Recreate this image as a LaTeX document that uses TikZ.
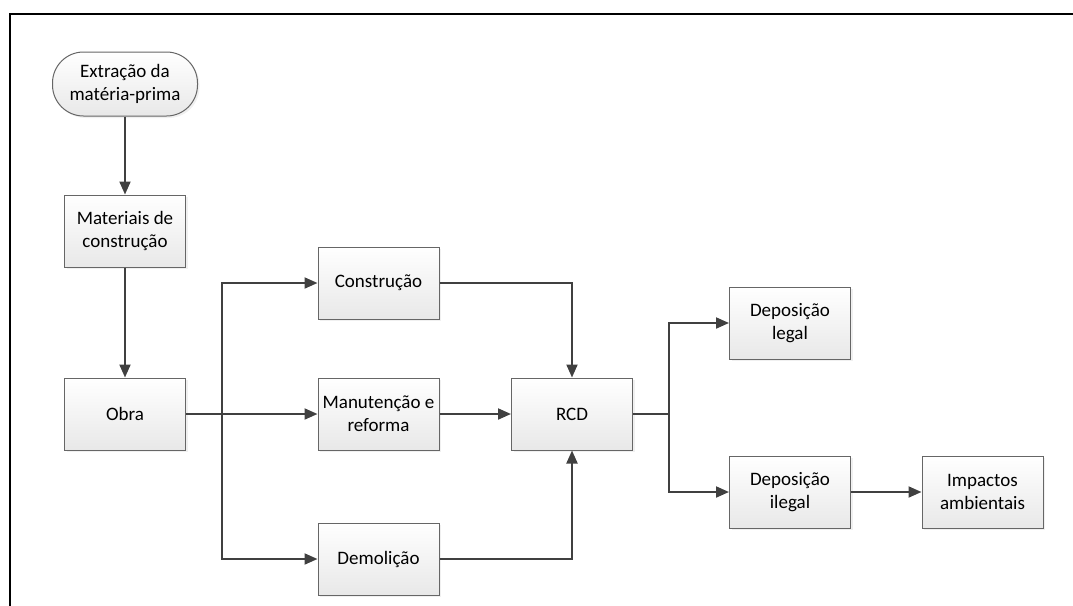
\documentclass[tikz,border=0pt]{standalone}
\usepackage{fontspec}
\setmainfont{Carlito}
\usetikzlibrary{arrows.meta,positioning,shadows}

\begin{document}
\begin{tikzpicture}[x=0.5pt, y=-0.5pt,
    box/.style={draw=black!60, line width=0.5pt, align=center, minimum width=60.5pt, minimum height=36pt, inner sep=0pt, top color=white, bottom color=black!9, font=\fontsize{9.5}{11.5}\selectfont, drop shadow={shadow xshift=1pt, shadow yshift=-1pt, opacity=0.12}},
    start/.style={box, rounded corners=15.5pt, minimum width=72.5pt, minimum height=32pt},
    flow/.style={draw=black!75, line width=1pt, -{Triangle[length=6.5pt,width=5.5pt]}},
    link/.style={draw=black!75, line width=1pt}
  ]
    \useasboundingbox (0,0) rectangle (1073,606);
    \draw[line width=1pt] (10,640) |- (1100,14);

    % left column
    \node[start] (extracao) at (125,84) {Extração da\\matéria-prima};
    \node[box] (materiais) at (125,231) {Materiais de\\construção};
    \node[box] (obra) at (125,414) {Obra};

    % stages of the work
    \node[box] (construcao) at (378.5,283) {Construção};
    \node[box] (manutencao) at (378.5,414) {Manutenção e\\reforma};
    \node[box] (demolicao) at (378.5,559) {Demolição};

    \node[box] (rcd) at (572,414) {RCD};

    % destination of the waste
    \node[box] (legal) at (790,323) {Deposição\\legal};
    \node[box] (ilegal) at (790,492) {Deposição\\ilegal};
    \node[box] (impactos) at (982.5,492) {Impactos\\ambientais};

    \coordinate (split) at (222,414);
    \coordinate (fork) at (669,414);

    \draw[flow] (extracao) -- (materiais);
    \draw[flow] (materiais) -- (obra);
    \draw[flow] (obra) -- (manutencao);
    \draw[flow] (split) |- (construcao);
    \draw[flow] (split) |- (demolicao);
    \draw[flow] (construcao) -| (rcd);
    \draw[flow] (manutencao) -- (rcd);
    \draw[flow] (demolicao) -| (rcd);
    \draw[link] (rcd) -- (fork);
    \draw[flow] (fork) |- (legal);
    \draw[flow] (fork) |- (ilegal);
    \draw[flow] (ilegal) -- (impactos);
  \end{tikzpicture}
\end{document}
